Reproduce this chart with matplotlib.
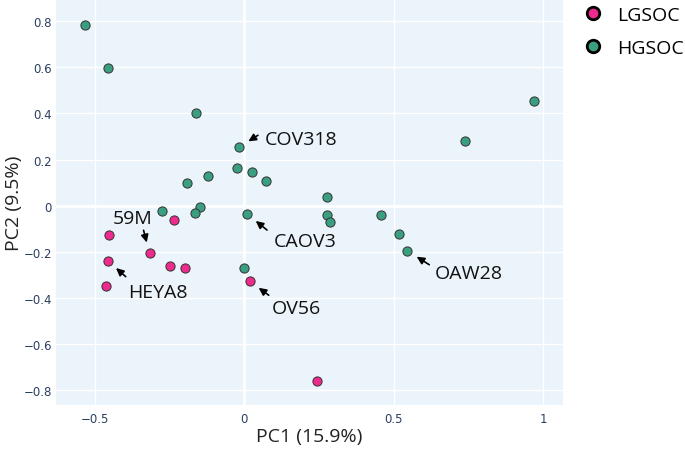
import matplotlib
matplotlib.use('Agg')
import matplotlib.pyplot as plt
from matplotlib.lines import Line2D

# PCA scores
lg_pc1 = [-0.233, -0.451, -0.316, -0.456, -0.248, -0.197, -0.461, 0.019, 0.243]
lg_pc2 = [-0.062, -0.127, -0.206, -0.238, -0.260, -0.270, -0.349, -0.327, -0.758]

hg_pc1 = [-0.531, -0.454, -0.162, -0.017, -0.023, 0.026, 0.074, -0.191, -0.121,
          0.277, -0.275, -0.148, -0.164, 0.010, 0.279, 0.286, 0.969, 0.740,
          0.458, 0.520, 0.546, 0.000]
hg_pc2 = [0.784, 0.596, 0.400, 0.253, 0.163, 0.147, 0.106, 0.098, 0.130,
          0.039, -0.023, -0.006, -0.033, -0.036, -0.039, -0.072, 0.453, 0.279,
          -0.039, -0.124, -0.195, -0.270]

# labelled cell lines: (name, group, index in that group)
labels = [('COV318', 'hg', 3), ('CAOV3', 'hg', 13), ('OAW28', 'hg', 20),
          ('59M', 'lg', 2), ('HEYA8', 'lg', 3), ('OV56', 'lg', 7)]

x_ticks = [-0.5, 0, 0.5, 1]
y_ticks = [-0.8, -0.6, -0.4, -0.2, 0, 0.2, 0.4, 0.6, 0.8]

PINK = '#ee2a8e'
TEAL = '#3a9e80'
BG = '#ebf4fb'
TICK_COLOR = '#2a3f5f'

# text offset / arrow tail offset in pixels from the point (y up)
label_pos = {
    'COV318': ((62, 8), (19, 12)),
    'CAOV3': ((58, -27), (20, -16)),
    'OV56': ((47, -27), (19, -14)),
    'HEYA8': ((50, -31), (18, -16)),
    '59M': ((-17, 35), (-6, 23)),
    'OAW28': ((61, -22), (22, -14)),
}

plt.rcParams['font.family'] = ['Open Sans', 'DejaVu Sans']

fig = plt.figure(figsize=(6.85, 4.52), dpi=100)
ax = fig.add_axes([56 / 685, 1 - 406 / 452, (563 - 56) / 685, 406 / 452])
ax.set_facecolor(BG)

ax.set_xlim(-0.629, 1.067)
ax.set_ylim(-0.863, 0.895)

for t in x_ticks:
    ax.axvline(t, color='white', lw=2.0 if t == 0 else 1.0, zorder=0)
for t in y_ticks:
    ax.axhline(t, color='white', lw=2.0 if t == 0 else 1.0, zorder=0)

ax.scatter(lg_pc1, lg_pc2, s=44, color=PINK, edgecolor='#333333', linewidth=0.7, zorder=3)
ax.scatter(hg_pc1, hg_pc2, s=44, color=TEAL, edgecolor='#333333', linewidth=0.7, zorder=3)

groups = {'lg': (lg_pc1, lg_pc2), 'hg': (hg_pc1, hg_pc2)}
for name, grp, i in labels:
    px, py = groups[grp][0][i], groups[grp][1][i]
    (tx, ty), (ax_, ay_) = label_pos[name]
    ax.annotate(name, xy=(px, py), xytext=(tx, ty), textcoords='offset pixels',
                ha='center', va='center', fontsize=14, color='#111111', zorder=4)
    ax.annotate('', xy=(px, py), xytext=(ax_, ay_), textcoords='offset pixels',
                arrowprops=dict(arrowstyle='-|>,head_length=0.45,head_width=0.22',
                                color='black', lw=1.2, shrinkA=0, shrinkB=8),
                zorder=4)

ax.set_xticks(x_ticks)
ax.set_xticklabels(['\u22120.5', '0', '0.5', '1'])
ax.set_yticks(y_ticks)
ax.set_yticklabels([('\u2212' + f'{abs(v):g}') if v < 0 else f'{v:g}' for v in y_ticks])
ax.tick_params(axis='x', length=0, labelsize=8.5, labelcolor=TICK_COLOR, pad=5)
ax.tick_params(axis='y', length=0, labelsize=8.5, labelcolor=TICK_COLOR, pad=3)
for lbl in ax.get_xticklabels() + ax.get_yticklabels():
    lbl.set_family('DejaVu Sans')
for sp in ax.spines.values():
    sp.set_visible(False)

ax.set_xlabel('PC1 (15.9%)', fontsize=14, color='#222222')
ax.set_ylabel('PC2 (9.5%)', fontsize=14, color='#222222')
ax.xaxis.set_label_coords(0.5, -0.076)
ax.yaxis.set_label_coords(-0.083, 0.5)
ax.xaxis.label.set_va('center')
ax.yaxis.label.set_va('center')

handles = [
    Line2D([], [], marker='o', ls='', markersize=9, markerfacecolor=PINK,
           markeredgecolor='black', markeredgewidth=2, label='LGSOC'),
    Line2D([], [], marker='o', ls='', markersize=9, markerfacecolor=TEAL,
           markeredgecolor='black', markeredgewidth=2, label='HGSOC'),
]
fig.legend(handles=handles, loc='upper left', bbox_to_anchor=(581 / 685, 1 - 5 / 452),
           frameon=False, fontsize=14, handlelength=1.0, handletextpad=0.75,
           labelspacing=0.75, borderaxespad=0.0, borderpad=0.1)

fig.savefig('out.png', dpi=100)
